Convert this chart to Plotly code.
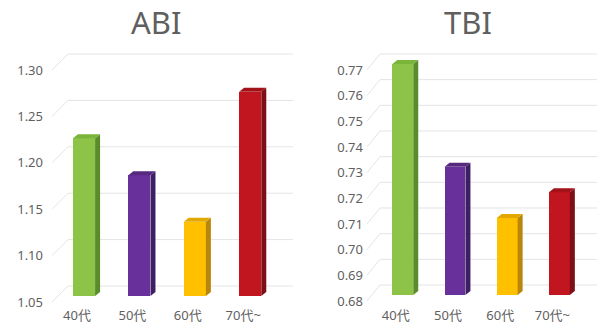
import plotly.graph_objects as go

W, H = 600, 327

cats = ["40代", "50代", "60代", "70代~"]
abi_vals = [1.22, 1.18, 1.13, 1.27]
tbi_vals = [0.77, 0.73, 0.71, 0.72]
abi_ticks = [1.05, 1.10, 1.15, 1.20, 1.25, 1.30]
abi_ticktext = ["1.05", "1.10", "1.15", "1.20", "1.25", "1.30"]
tbi_ticks = [0.68, 0.69, 0.70, 0.71, 0.72, 0.73, 0.74, 0.75, 0.76, 0.77]
tbi_ticktext = ["0.68", "0.69", "0.70", "0.71", "0.72", "0.73", "0.74", "0.75", "0.76", "0.77"]
titles = ["ABI", "TBI"]

front_colors = ["#8dc448", "#68309a", "#ffc000", "#c1161f"]
side_colors = ["#5b8c2c", "#3f1f63", "#b8860b", "#7d1016"]
top_colors = ["#7ab43a", "#56287f", "#e2a800", "#a31219"]

TXT = "#5f5f5f"
GRID = "#e4e4e4"
FONT = "Noto Sans, Noto Sans CJK JP, sans-serif"

panels = [
    dict(vals=abi_vals, ticks=abi_ticks, ticktext=abi_ticktext, base=1.05,
         xdom=(44, 297), ydom=(40, 305), c0=84.0, cs=55.4, y0=296.0, ppu=928.0,
         diag_x0=52, wall_x0=68, wall_x1=293, title_x=156),
    dict(vals=tbi_vals, ticks=tbi_ticks, ticktext=tbi_ticktext, base=0.68,
         xdom=(364, 599), ydom=(40, 305), c0=402.8, cs=52.2, y0=295.0, ppu=2567.0,
         diag_x0=367, wall_x0=380, wall_x1=597, title_x=468),
]

fig = go.Figure()
shapes = []
annotations = []
DX, DY = 5, 4  # bar depth in px
BW = 0.40

for k, p in enumerate(panels):
    xa = "x" if k == 0 else "x2"
    ya = "y" if k == 0 else "y2"
    px2x = lambda px, p=p: (px - p["c0"]) / p["cs"]
    dpx2y = lambda d, p=p: d / p["ppu"]
    xr = [px2x(p["xdom"][0]), px2x(p["xdom"][1])]
    yr = [p["base"] - (p["ydom"][1] - p["y0"]) / p["ppu"],
          p["base"] + (p["y0"] - p["ydom"][0]) / p["ppu"]]

    for t in p["ticks"]:
        yb = t + dpx2y(10)
        yf = t - dpx2y(6)
        shapes.append(dict(type="line", xref=xa, yref=ya, layer="below",
                           x0=px2x(p["wall_x0"]), x1=px2x(p["wall_x1"]), y0=yb, y1=yb,
                           line=dict(color=GRID, width=1)))
        shapes.append(dict(type="line", xref=xa, yref=ya, layer="below",
                           x0=px2x(p["diag_x0"]), x1=px2x(p["wall_x0"]), y0=yf, y1=yb,
                           line=dict(color=GRID, width=1)))

    xs = list(range(len(cats)))
    dx = DX / p["cs"]
    dy = dpx2y(DY)
    for i, v in enumerate(p["vals"]):
        xl, xrt = xs[i] - BW / 2, xs[i] + BW / 2
        b = p["base"]
        fig.add_trace(go.Scatter(
            x=[xrt, xrt + dx, xrt + dx, xrt, xrt],
            y=[b, b + dy, v + dy, v, b],
            fill="toself", fillcolor=side_colors[i], mode="lines",
            line=dict(width=0, color=side_colors[i]), hoverinfo="skip",
            showlegend=False, xaxis=xa, yaxis=ya))
        fig.add_trace(go.Scatter(
            x=[xl, xl + dx, xrt + dx, xrt, xl],
            y=[v, v + dy, v + dy, v, v],
            fill="toself", fillcolor=top_colors[i], mode="lines",
            line=dict(width=0, color=top_colors[i]), hoverinfo="skip",
            showlegend=False, xaxis=xa, yaxis=ya))
    fig.add_trace(go.Bar(
        x=xs, y=[v - p["base"] for v in p["vals"]], base=p["base"], width=BW,
        marker=dict(color=front_colors, line=dict(width=0)),
        showlegend=False, xaxis=xa, yaxis=ya, hovertext=cats))

    xkey = "xaxis" if k == 0 else "xaxis2"
    ykey = "yaxis" if k == 0 else "yaxis2"
    fig.update_layout(**{
        xkey: dict(domain=[p["xdom"][0] / W, p["xdom"][1] / W], range=xr,
                   tickvals=xs, ticktext=cats, showgrid=False, zeroline=False,
                   showline=False, ticks="", ticklabelshift=-7, ticklabelstandoff=1,
                   tickfont=dict(size=13, color=TXT, family=FONT),
                   anchor=ya, fixedrange=True, automargin=False),
        ykey: dict(domain=[1 - p["ydom"][1] / H, 1 - p["ydom"][0] / H], range=yr,
                   tickvals=p["ticks"], ticktext=p["ticktext"], showgrid=False,
                   zeroline=False, showline=False, ticks="", ticklabelshift=6,
                   tickfont=dict(size=13, color=TXT, family=FONT),
                   anchor=xa, fixedrange=True, automargin=False),
    })
    annotations.append(dict(text=titles[k], xref="paper", yref="paper",
                            x=p["title_x"] / W, y=1 - 22 / H, showarrow=False,
                            xanchor="center", yanchor="middle",
                            font=dict(size=31, color=TXT, family=FONT)))

fig.update_layout(width=W, height=H, margin=dict(l=0, r=0, t=0, b=0),
                  paper_bgcolor="white", plot_bgcolor="white",
                  shapes=shapes, annotations=annotations, bargap=0)
fig.write_html("out.html")
